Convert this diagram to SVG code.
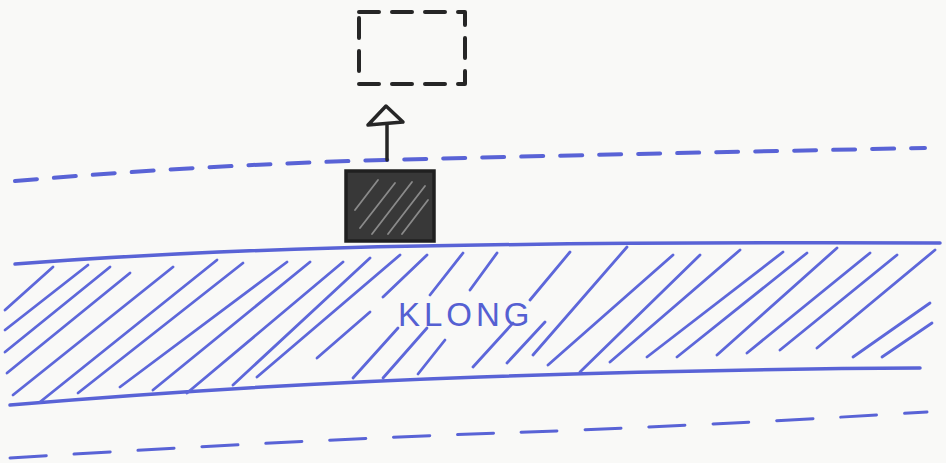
<svg xmlns="http://www.w3.org/2000/svg" width="946" height="463" viewBox="0 0 946 463">
<style>
.blue{stroke:#5963d6;fill:none;stroke-linecap:round;stroke-linejoin:round}
.hatch{stroke:#5d67da;stroke-width:2.8;fill:none;stroke-linecap:round}
.ink{stroke:#262626;fill:none;stroke-linecap:round;stroke-linejoin:round}
.lbl{font-family:"Liberation Sans",Arial,sans-serif;font-size:33px;fill:#5560d2;letter-spacing:4px}
</style>
<rect x="0" y="0" width="946" height="463" fill="#f9f9f7"/>

<g id="upper-dashed-line">
<path class="blue" stroke-width="4" stroke-dasharray="22 17" d="M15,181 Q200,165 385,160 T925,148"/>
</g>

<g id="lower-dashed-line">
<path class="blue" stroke-width="3" stroke-dasharray="36 28" d="M10,458 Q300,440 500,433 T927,412"/>
</g>

<g id="klong">
<path class="blue" stroke-width="3.5" d="M15,264 Q200,250 420,246 T940,243"/>
<path class="blue" stroke-width="3.5" d="M10,405 Q250,385 480,377 T920,368"/>
<g class="hatch">
<line x1="5" y1="310" x2="53" y2="267"/>
<line x1="5" y1="330" x2="88" y2="265"/>
<line x1="5" y1="352" x2="110" y2="267"/>
<line x1="7" y1="373" x2="130" y2="273"/>
<line x1="13" y1="395" x2="173" y2="267"/>
<line x1="40" y1="402" x2="217" y2="260"/>
<line x1="78" y1="393" x2="243" y2="263"/>
<line x1="120" y1="387" x2="287" y2="262"/>
<line x1="153" y1="390" x2="310" y2="262"/>
<line x1="187" y1="393" x2="343" y2="262"/>
<line x1="233" y1="385" x2="370" y2="258"/>
<line x1="257" y1="377" x2="400" y2="255"/>
<line x1="317" y1="358" x2="370" y2="312"/>
<line x1="353" y1="378" x2="398" y2="328"/>
<line x1="383" y1="378" x2="427" y2="328"/>
<line x1="418" y1="374" x2="445" y2="340"/>
<line x1="383" y1="297" x2="427" y2="255"/>
<line x1="430" y1="295" x2="463" y2="253"/>
<line x1="470" y1="290" x2="497" y2="253"/>
<line x1="473" y1="367" x2="513" y2="323"/>
<line x1="507" y1="363" x2="545" y2="322"/>
<line x1="530" y1="300" x2="570" y2="252"/>
<line x1="533" y1="355" x2="627" y2="247"/>
<line x1="548" y1="365" x2="673" y2="255"/>
<line x1="580" y1="372" x2="700" y2="255"/>
<line x1="610" y1="362" x2="740" y2="250"/>
<line x1="647" y1="357" x2="783" y2="252"/>
<line x1="677" y1="357" x2="807" y2="253"/>
<line x1="717" y1="355" x2="837" y2="248"/>
<line x1="747" y1="353" x2="870" y2="253"/>
<line x1="780" y1="350" x2="897" y2="255"/>
<line x1="817" y1="348" x2="935" y2="250"/>
<line x1="853" y1="357" x2="930" y2="303"/>
<line x1="882" y1="357" x2="932" y2="323"/>
</g>
<text class="lbl" x="398" y="326">KLONG</text>
</g>

<g id="building">
<rect x="346" y="171" width="88" height="70" fill="#383838" stroke="#202020" stroke-width="3.5"/>
<g stroke="#8a8a8a" stroke-width="1.8" stroke-linecap="round">
<line x1="360" y1="228" x2="395" y2="183"/>
<line x1="372" y1="234" x2="412" y2="182"/>
<line x1="388" y1="234" x2="425" y2="186"/>
<line x1="402" y1="234" x2="428" y2="200"/>
<line x1="355" y1="210" x2="378" y2="180"/>
</g>
</g>

<g id="new-position">
<rect class="ink" x="359" y="12" width="106" height="72" stroke-width="4" stroke-dasharray="20 13"/>
</g>

<g id="connectors">
<line class="ink" x1="387" y1="160" x2="387" y2="124" stroke-width="3.5"/>
<polygon class="ink" points="368,125 386,106 403,122" stroke-width="3.5"/>
</g>
</svg>
